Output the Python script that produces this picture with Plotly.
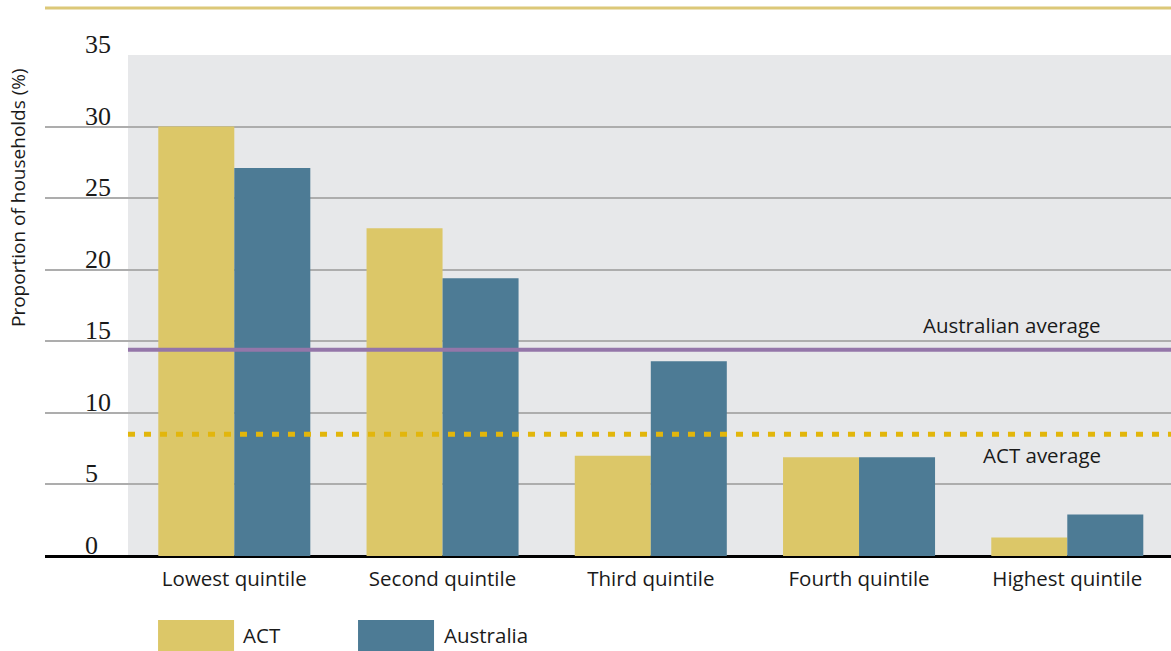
import plotly.graph_objects as go

categories = ["Lowest quintile", "Second quintile", "Third quintile", "Fourth quintile", "Highest quintile"]
act_values = [30.0, 22.9, 7.0, 6.9, 1.3]
aus_values = [27.1, 19.4, 13.6, 6.9, 2.9]
aus_average = 14.4
act_average = 8.5
y_ticks = [0, 5, 10, 15, 20, 25, 30, 35]

ACT_COLOR = "#DCC768"
AUS_COLOR = "#4D7B95"
PURPLE = "#9476A9"
DASH_GOLD = "#E2B60C"
BG_GRAY = "#E7E8EA"
GRID = "#ADADAD"
SANS = "'Open Sans', Lato, sans-serif"
SERIF = "'Liberation Serif', 'DejaVu Serif', serif"
TXT = "#1a1a1a"

fig = go.Figure()
fig.add_trace(go.Bar(x=categories, y=act_values, name="ACT", marker=dict(color=ACT_COLOR, line=dict(width=0))))
fig.add_trace(go.Bar(x=categories, y=aus_values, name="Australia", marker=dict(color=AUS_COLOR, line=dict(width=0))))

shapes = []
# gray plotting background (starts right of tick labels)
shapes.append(dict(type="rect", xref="paper", yref="y", x0=0.0737, x1=1, y0=0, y1=35,
                   fillcolor=BG_GRAY, line=dict(width=0), layer="below"))
# top gold rule
shapes.append(dict(type="line", xref="paper", yref="paper", x0=0, x1=1, y0=1.0938, y1=1.0938,
                   line=dict(color="#DCC878", width=3)))
# average lines
shapes.append(dict(type="line", xref="paper", yref="y", x0=0.0737, x1=1, y0=aus_average, y1=aus_average,
                   line=dict(color=PURPLE, width=4)))
shapes.append(dict(type="line", xref="paper", yref="y", x0=0.0737, x1=1, y0=act_average, y1=act_average,
                   line=dict(color=DASH_GOLD, width=5, dash="7px,9px")))
# legend swatches
shapes.append(dict(type="rect", xref="paper", yref="paper", x0=0.1004, x1=0.1679, y0=-0.1896, y1=-0.1277,
                   fillcolor=ACT_COLOR, line=dict(width=0)))
shapes.append(dict(type="rect", xref="paper", yref="paper", x0=0.2780, x1=0.3455, y0=-0.1896, y1=-0.1277,
                   fillcolor=AUS_COLOR, line=dict(width=0)))

annotations = []
for t in y_ticks:
    annotations.append(dict(xref="paper", yref="y", x=0.0340, y=t, text=str(t), showarrow=False,
                            xanchor="left", yanchor="bottom", yshift=-6,
                            font=dict(family=SERIF, size=26, color=TXT)))
annotations.append(dict(xref="paper", yref="y", x=0.9396, y=aus_average, text="Australian average",
                        showarrow=False, xanchor="right", yanchor="bottom", yshift=9,
                        font=dict(family=SANS, size=20.5, color=TXT)))
annotations.append(dict(xref="paper", yref="y", x=0.9396, y=act_average, text="ACT average",
                        showarrow=False, xanchor="right", yanchor="top", yshift=-5,
                        font=dict(family=SANS, size=20.5, color=TXT)))
annotations.append(dict(xref="paper", yref="paper", x=0.174, y=-0.1577, text="ACT", showarrow=False,
                        xanchor="left", yanchor="middle", font=dict(family=SANS, size=20.5, color=TXT)))
annotations.append(dict(xref="paper", yref="paper", x=0.3526, y=-0.1577, text="Australia", showarrow=False,
                        xanchor="left", yanchor="middle", font=dict(family=SANS, size=20.5, color=TXT)))
annotations.append(dict(xref="paper", yref="paper", x=-0.0240, y=0.7165, text="Proportion of households (%)",
                        showarrow=False, textangle=-90, xanchor="center", yanchor="middle",
                        font=dict(family=SANS, size=19, color=TXT)))

fig.update_layout(
    width=1171, height=651,
    margin=dict(l=45, r=0, t=55, b=95),
    paper_bgcolor="white", plot_bgcolor="white",
    barmode="group", bargap=0.27, bargroupgap=0,
    showlegend=False,
    shapes=shapes, annotations=annotations,
    xaxis=dict(type="category", range=[-0.909, 4.498], showgrid=False, showline=False, ticks="",
               ticklabelstandoff=8,
               tickfont=dict(family=SANS, size=20.5, color=TXT), fixedrange=True),
    yaxis=dict(range=[0, 35], tickvals=y_ticks, showticklabels=False, showgrid=True, gridcolor=GRID,
               gridwidth=1.5, zeroline=True, zerolinecolor="black", zerolinewidth=3, showline=False,
               fixedrange=True),
)

fig.write_html("out.html", config={"displayModeBar": False},
               post_script="document.body.style.margin='0px';document.body.style.overflow='hidden';")
